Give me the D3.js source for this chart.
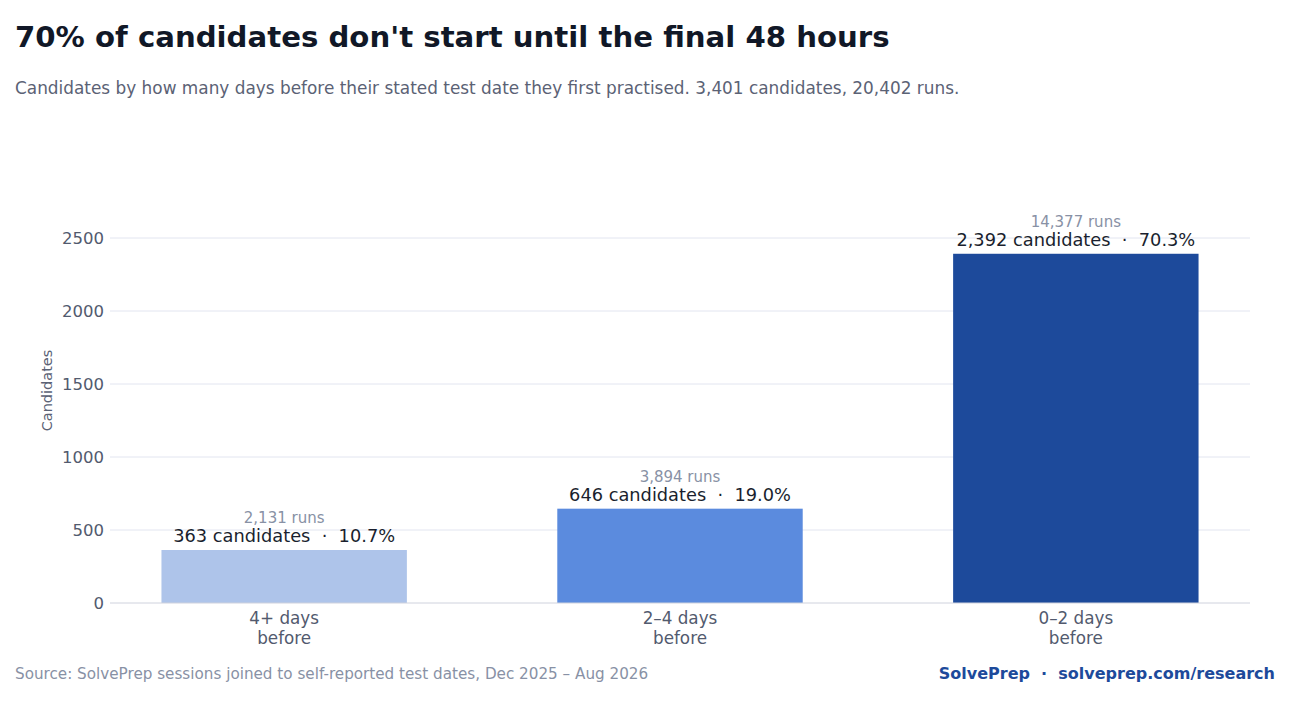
<!DOCTYPE html>
<html>
<head>
<meta charset="utf-8">
<script src="https://cdn.jsdelivr.net/npm/d3@7"></script>
<style>
  body { margin: 0; background: #fff; font-family: "DejaVu Sans", sans-serif; }
  svg text { font-family: "DejaVu Sans", sans-serif; }
</style>
</head>
<body>
<svg id="chart" width="1290" height="705"></svg>
<script>
// Data ==================================================================
var categories = ["4+ days|before", "2–4 days|before", "0–2 days|before"];
var candidates = [363, 646, 2392];
var shares = ["10.7%", "19.0%", "70.3%"];
var runs = ["2,131", "3,894", "14,377"];
var barColors = ["#aec4ea", "#5b8bde", "#1d4a9b"];
var yTicks = [0, 500, 1000, 1500, 2000, 2500];

// Layout ================================================================
var svg = d3.select("#chart");
var margin = { left: 110, right: 40, top: 200, bottom: 102 };
var width = 1290 - margin.left - margin.right;
var height = 705 - margin.top - margin.bottom;

var x = d3.scaleBand()
	.domain(categories)
	.range([0, width])
	.paddingInner(0.38)
	.paddingOuter(0.13);

var y = d3.scaleLinear()
	.domain([0, 2500 * height / 365])
	.range([height, 0]);

// Titles
svg.append("text")
	.attr("x", 15).attr("y", 47)
	.attr("font-size", 29.2).attr("font-weight", "bold")
	.attr("fill", "#111827")
	.text("70% of candidates don't start until the final 48 hours");

svg.append("text")
	.attr("x", 15).attr("y", 94)
	.attr("font-size", 16.9)
	.attr("fill", "#5b6275")
	.text("Candidates by how many days before their stated test date they first practised. 3,401 candidates, 20,402 runs.");

var g = svg.append("g")
	.attr("transform", "translate(" + margin.left + "," + margin.top + ")");

// Grid
g.selectAll(".grid")
	.data(yTicks.filter(function (d) { return d > 0; }))
	.enter().append("line")
	.attr("x1", 0).attr("x2", width)
	.attr("y1", function (d) { return y(d); })
	.attr("y2", function (d) { return y(d); })
	.attr("stroke", "#e2e5f0").attr("stroke-width", 1);

// Y axis labels
var yAxis = d3.axisLeft(y).tickValues(yTicks).tickFormat(d3.format("d")).tickSize(0).tickPadding(6);
var ya = g.append("g").call(yAxis);
ya.select(".domain").remove();
ya.selectAll("text")
	.attr("font-size", 16.5).attr("fill", "#525a6e")
	.attr("font-family", "DejaVu Sans, sans-serif");

svg.append("text")
	.attr("transform", "translate(52," + (margin.top + height / 2 - 11) + ") rotate(-90)")
	.attr("text-anchor", "middle")
	.attr("font-size", 14.5).attr("fill", "#5b6275")
	.text("Candidates");

// Bars
g.selectAll(".bar")
	.data(candidates)
	.enter().append("rect")
	.attr("x", function (d, i) { return x(categories[i]); })
	.attr("width", x.bandwidth())
	.attr("y", function (d) { return y(d); })
	.attr("height", function (d) { return height - y(d); })
	.attr("fill", function (d, i) { return barColors[i]; });

// Baseline
g.append("line")
	.attr("x1", 0).attr("x2", width)
	.attr("y1", y(0)).attr("y2", y(0))
	.attr("stroke", "#cfd2dd").attr("stroke-width", 1);

// Bar labels
g.selectAll(".runs")
	.data(candidates)
	.enter().append("text")
	.attr("x", function (d, i) { return x(categories[i]) + x.bandwidth() / 2; })
	.attr("y", function (d) { return y(d) - 27; })
	.attr("text-anchor", "middle")
	.attr("font-size", 15).attr("fill", "#8891a5")
	.text(function (d, i) { return runs[i] + " runs"; });

g.selectAll(".cand")
	.data(candidates)
	.enter().append("text")
	.attr("x", function (d, i) { return x(categories[i]) + x.bandwidth() / 2; })
	.attr("y", function (d) { return y(d) - 8; })
	.attr("text-anchor", "middle")
	.attr("font-size", 17.8).attr("fill", "#1a1f2e")
	.style("white-space", "pre")
	.text(function (d, i) { return d3.format(",")(d) + " candidates  ·  " + shares[i]; });

// X labels
var xl = g.selectAll(".xlab")
	.data(categories)
	.enter().append("text")
	.attr("x", function (d) { return x(d) + x.bandwidth() / 2; })
	.attr("y", height + 21)
	.attr("text-anchor", "middle")
	.attr("font-size", 16.8).attr("fill", "#525a6e");
xl.each(function (d) {
	var parts = d.split("|");
	var t = d3.select(this);
	parts.forEach(function (p, k) {
		t.append("tspan")
			.attr("x", x(d) + x.bandwidth() / 2)
			.attr("dy", k === 0 ? 0 : 20)
			.text(p);
	});
});

// Footer
svg.append("text")
	.attr("x", 15).attr("y", 679)
	.attr("font-size", 15.2).attr("fill", "#8891a5")
	.text("Source: SolvePrep sessions joined to self-reported test dates, Dec 2025 – Aug 2026");

svg.append("text")
	.attr("x", 1275).attr("y", 679)
	.attr("text-anchor", "end")
	.attr("font-size", 16).attr("font-weight", "bold").attr("fill", "#1d4a9b")
	.style("white-space", "pre")
	.text("SolvePrep  ·  solveprep.com/research");
</script>
</body>
</html>
